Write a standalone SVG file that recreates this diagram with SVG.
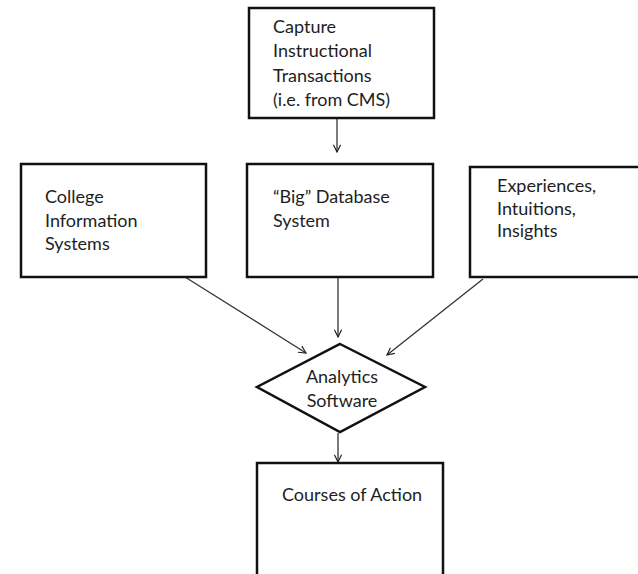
<svg xmlns="http://www.w3.org/2000/svg" width="638" height="574" viewBox="0 0 638 574">
  <defs>
    <marker id="arrow" viewBox="0 0 10 10" refX="9" refY="5" markerWidth="9" markerHeight="9" markerUnits="userSpaceOnUse" orient="auto">
      <path d="M1,1 L9,5 L1,9" fill="none" stroke="#222" stroke-width="1.3"/>
    </marker>
    <style>
      .box { fill: #fff; stroke: #111; stroke-width: 2.5; }
      .lbl { font-family: Lato, "Liberation Sans", sans-serif; font-size: 18px; fill: #1e1e1e; }
      .edge { stroke: #333; stroke-width: 1.3; fill: none; marker-end: url(#arrow); }
    </style>
  </defs>
  <rect width="638" height="574" fill="#fff"/>

  <g id="connectors">
    <line class="edge" x1="337" y1="119" x2="337" y2="152"/>
    <line class="edge" x1="338" y1="278" x2="338" y2="337"/>
    <line class="edge" x1="185" y1="277" x2="306" y2="353"/>
    <line class="edge" x1="483" y1="279" x2="387" y2="355"/>
    <line class="edge" x1="338" y1="433" x2="338" y2="462"/>
  </g>

  <g id="capture">
    <rect class="box" x="249" y="8" width="185" height="110"/>
    <text class="lbl" x="273" y="33">Capture</text>
    <text class="lbl" x="273" y="57">Instructional</text>
    <text class="lbl" x="273" y="82">Transactions</text>
    <text class="lbl" x="273" y="106">(i.e. from CMS)</text>
  </g>

  <g id="college">
    <rect class="box" x="21" y="164" width="185" height="113"/>
    <text class="lbl" x="45" y="203">College</text>
    <text class="lbl" x="45" y="227">Information</text>
    <text class="lbl" x="45" y="250">Systems</text>
  </g>

  <g id="database">
    <rect class="box" x="247" y="164" width="186" height="113"/>
    <text class="lbl" x="273" y="203">“Big” Database</text>
    <text class="lbl" x="273" y="227">System</text>
  </g>

  <g id="experiences">
    <rect class="box" x="470" y="167" width="180" height="110"/>
    <text class="lbl" x="497" y="192">Experiences,</text>
    <text class="lbl" x="497" y="215">Intuitions,</text>
    <text class="lbl" x="497" y="237">Insights</text>
  </g>

  <g id="analytics">
    <polygon class="box" points="340,344 425,387 340,432 257,387"/>
    <text class="lbl" x="342" y="383" text-anchor="middle">Analytics</text>
    <text class="lbl" x="342" y="407" text-anchor="middle">Software</text>
  </g>

  <g id="courses">
    <rect class="box" x="257" y="463" width="186" height="130"/>
    <text class="lbl" x="282" y="501">Courses of Action</text>
  </g>
</svg>
